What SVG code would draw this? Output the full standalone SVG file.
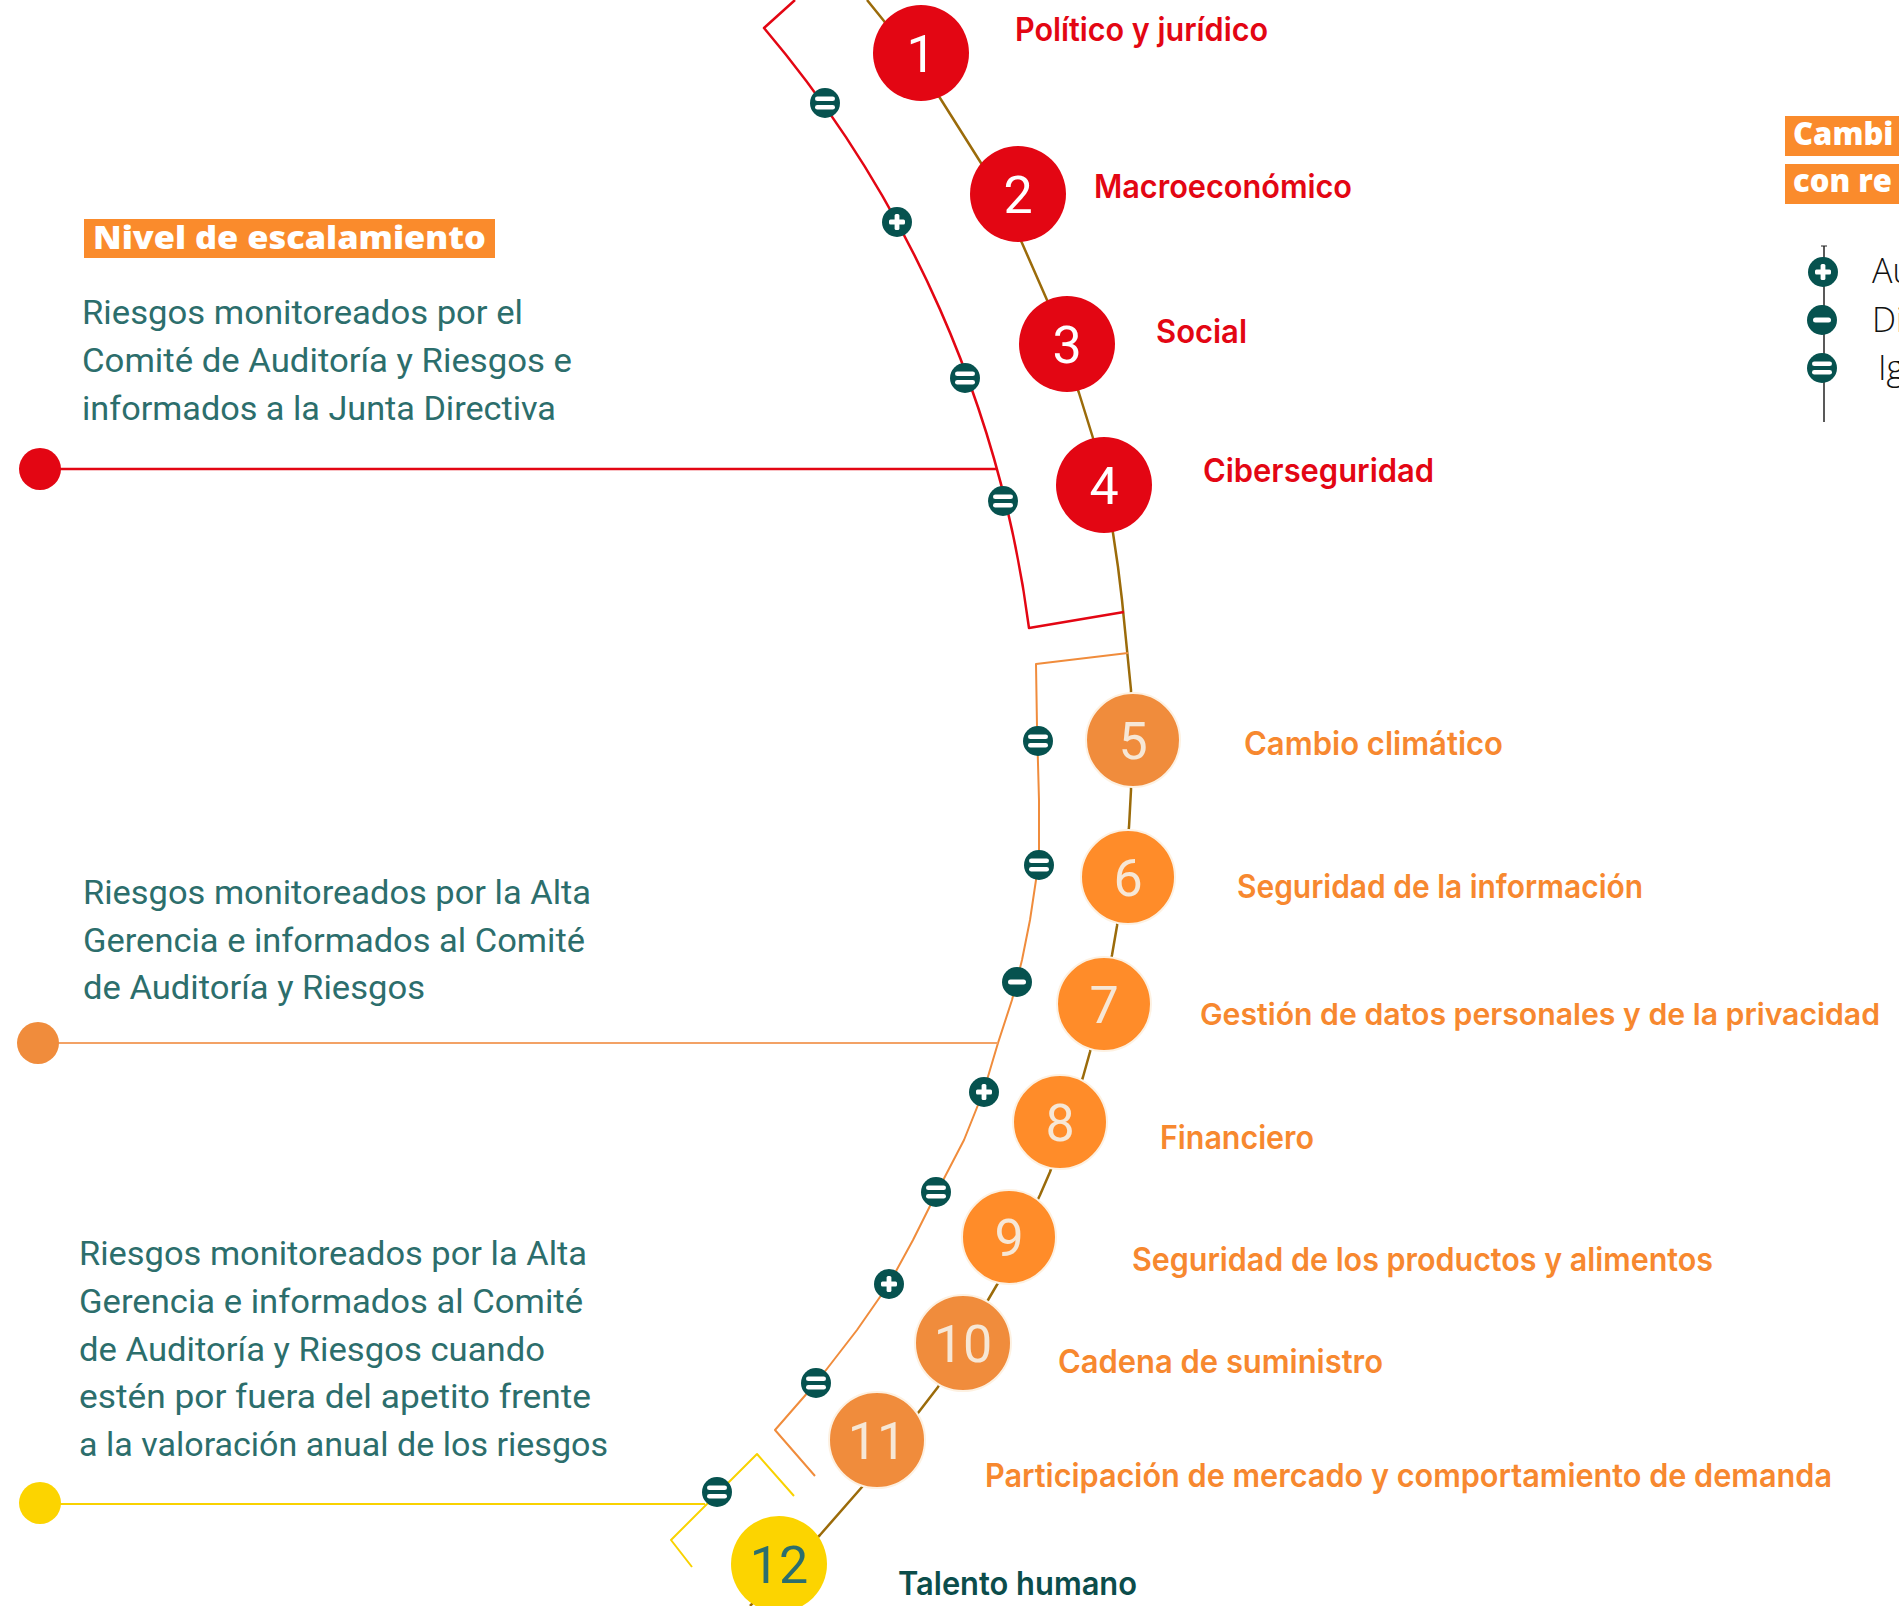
<svg xmlns="http://www.w3.org/2000/svg" xmlns:xlink="http://www.w3.org/1999/xlink" width="1899" height="1606" viewBox="0 0 1899 1606">
<style>
.lbl{font-family:Inter,Roboto,"Liberation Sans",sans-serif;font-weight:600;font-size:32px}
.red{fill:#E30613}
.org{fill:#F7882F}
.num{font-family:Roboto,"Liberation Sans",sans-serif;font-weight:400;font-size:52px;text-anchor:middle}
.wn{fill:#FFFFFF}
.cn{fill:#F6E7D6}
.para{font-family:Roboto,"Liberation Sans",sans-serif;font-weight:400;font-size:34px;fill:#2C6E6C}
.hdr{font-family:"Open Sans","Liberation Sans",sans-serif;font-weight:800;font-size:31px;fill:#FFFFFF}
.leg{font-family:"Open Sans","Liberation Sans",sans-serif;font-weight:300;font-size:34px;fill:#111111}
.cr{fill:#E30613}
.co1{fill:#F08C3C;stroke:#FDF1E2;stroke-width:2}
.co2{fill:#FF8C29;stroke:#FDF1E2;stroke-width:2}
.cy{fill:#FCD400}
</style>
<defs>
<g id="bEq"><circle r="15" fill="#06524F"/><rect x="-10" y="-6.6" width="20" height="4.6" rx="2.3" fill="#FFFFFF"/><rect x="-10" y="2" width="20" height="4.6" rx="2.3" fill="#FFFFFF"/></g>
<g id="bPlus"><circle r="15" fill="#06524F"/><rect x="-8" y="-2.4" width="16" height="4.8" rx="1.5" fill="#FFFFFF"/><rect x="-2.4" y="-8" width="4.8" height="16" rx="1.5" fill="#FFFFFF"/></g>
<g id="bMinus"><circle r="15" fill="#06524F"/><rect x="-9" y="-2.5" width="18" height="5" rx="2.5" fill="#FFFFFF"/></g>
</defs>
<rect width="1899" height="1606" fill="#FFFFFF"/>

<g id="connectors" fill="none" stroke-linejoin="round">
  <polyline points="867,0 884,21 940,98 981,163 1022,243 1047,300 1079,393 1093,438 1113,533 1118,567 1122,600 1125,630 1128,660 1131,690 1131,790 1129,827 1117,926 1112,955 1090,1052 1083,1077 1050,1172 1040,1195 998,1283 988,1300 938,1387 918,1413 862,1487 820,1535 750,1606" stroke="#9B6B0A" stroke-width="2.5"/>
  <path d="M795,0 L764,28 A1160,1160 0 0 1 1029,628 L1124,612" stroke="#E30613" stroke-width="2.5"/>
  <line x1="40" y1="469" x2="996" y2="469" stroke="#E30613" stroke-width="2.5"/>
  <polyline points="1128,653 1036,664 1037,727 1039,800 1039,850 1036,880 1030,920 1022,960 1012,1000 998,1043 984,1090 964,1140 938,1190 913,1240 889,1284 857,1330 816,1383 775,1430 815,1476" stroke="#F08C3C" stroke-width="2"/>
  <line x1="38" y1="1043" x2="998" y2="1043" stroke="#F3A265" stroke-width="2"/>
  <polyline points="794,1496 757,1454 671,1540 692,1567" stroke="#F9D200" stroke-width="2"/>
  <line x1="40" y1="1504" x2="705" y2="1504" stroke="#F9D200" stroke-width="1.8"/>
  <line x1="1824" y1="246" x2="1824" y2="422" stroke="#222222" stroke-width="1.5"/>
  <line x1="1821" y1="246" x2="1827" y2="246" stroke="#222222" stroke-width="1"/>
</g>

<g id="badges">
  <use xlink:href="#bEq" x="825" y="103"/>
  <use xlink:href="#bPlus" x="897" y="222"/>
  <use xlink:href="#bEq" x="965" y="378"/>
  <use xlink:href="#bEq" x="1003" y="501"/>
  <use xlink:href="#bEq" x="1038" y="741"/>
  <use xlink:href="#bEq" x="1039" y="865"/>
  <use xlink:href="#bMinus" x="1017" y="982"/>
  <use xlink:href="#bPlus" x="984" y="1092"/>
  <use xlink:href="#bEq" x="936" y="1192"/>
  <use xlink:href="#bPlus" x="889" y="1284"/>
  <use xlink:href="#bEq" x="816" y="1383"/>
  <use xlink:href="#bEq" x="717" y="1492"/>
</g>

<g id="level-dots">
  <circle cx="40" cy="469" r="21" fill="#E30613"/>
  <circle cx="38" cy="1043" r="21" fill="#F08C3C"/>
  <circle cx="40" cy="1503" r="21" fill="#FCD400"/>
</g>

<g id="nivel-header">
  <rect x="84" y="219" width="411" height="39" fill="#FA8B2C"/>
  <text class="hdr" x="93" y="249" textLength="393" lengthAdjust="spacingAndGlyphs">Nivel de escalamiento</text>
</g>

<g id="nivel-1">
  <text class="para" x="82" y="324" textLength="441" lengthAdjust="spacingAndGlyphs">Riesgos monitoreados por el</text>
  <text class="para" x="82" y="372" textLength="490" lengthAdjust="spacingAndGlyphs">Comité de Auditoría y Riesgos e</text>
  <text class="para" x="82" y="420" textLength="474" lengthAdjust="spacingAndGlyphs">informados a la Junta Directiva</text>
</g>
<g id="nivel-2">
  <text class="para" x="83" y="904" textLength="508" lengthAdjust="spacingAndGlyphs">Riesgos monitoreados por la Alta</text>
  <text class="para" x="83" y="952" textLength="502" lengthAdjust="spacingAndGlyphs">Gerencia e informados al Comité</text>
  <text class="para" x="83" y="999" textLength="342" lengthAdjust="spacingAndGlyphs">de Auditoría y Riesgos</text>
</g>
<g id="nivel-3">
  <text class="para" x="79" y="1265" textLength="508" lengthAdjust="spacingAndGlyphs">Riesgos monitoreados por la Alta</text>
  <text class="para" x="79" y="1313" textLength="504" lengthAdjust="spacingAndGlyphs">Gerencia e informados al Comité</text>
  <text class="para" x="79" y="1361" textLength="466" lengthAdjust="spacingAndGlyphs">de Auditoría y Riesgos cuando</text>
  <text class="para" x="79" y="1408" textLength="512" lengthAdjust="spacingAndGlyphs">estén por fuera del apetito frente</text>
  <text class="para" x="79" y="1456" textLength="529" lengthAdjust="spacingAndGlyphs">a la valoración anual de los riesgos</text>
</g>

<g id="risk-1"><circle class="cr" cx="921" cy="53" r="48"/><text class="num wn" x="921" y="72">1</text><text class="lbl red" x="1015" y="41" textLength="253" lengthAdjust="spacingAndGlyphs">Político y jurídico</text></g>
<g id="risk-2"><circle class="cr" cx="1018" cy="194" r="48"/><text class="num wn" x="1018" y="213">2</text><text class="lbl red" x="1094" y="198" textLength="258" lengthAdjust="spacingAndGlyphs">Macroeconómico</text></g>
<g id="risk-3"><circle class="cr" cx="1067" cy="344" r="48"/><text class="num wn" x="1067" y="363">3</text><text class="lbl red" x="1156" y="343" textLength="91" lengthAdjust="spacingAndGlyphs">Social</text></g>
<g id="risk-4"><circle class="cr" cx="1104" cy="485" r="48"/><text class="num wn" x="1104" y="504">4</text><text class="lbl red" x="1203" y="482" textLength="231" lengthAdjust="spacingAndGlyphs">Ciberseguridad</text></g>
<g id="risk-5"><circle class="co1" cx="1133" cy="740" r="47"/><text class="num cn" x="1133" y="759">5</text><text class="lbl org" x="1244" y="755" textLength="259" lengthAdjust="spacingAndGlyphs">Cambio climático</text></g>
<g id="risk-6"><circle class="co2" cx="1128" cy="877" r="47"/><text class="num cn" x="1128" y="896">6</text><text class="lbl org" x="1237" y="898" textLength="406" lengthAdjust="spacingAndGlyphs">Seguridad de la información</text></g>
<g id="risk-7"><circle class="co2" cx="1104" cy="1004" r="47"/><text class="num cn" x="1104" y="1023">7</text><text class="lbl org" x="1200" y="1025" textLength="680" lengthAdjust="spacingAndGlyphs" style="font-size:30px">Gestión de datos personales y de la privacidad</text></g>
<g id="risk-8"><circle class="co2" cx="1060" cy="1122" r="47"/><text class="num cn" x="1060" y="1141">8</text><text class="lbl org" x="1160" y="1149" textLength="154" lengthAdjust="spacingAndGlyphs">Financiero</text></g>
<g id="risk-9"><circle class="co2" cx="1009" cy="1237" r="47"/><text class="num cn" x="1009" y="1256">9</text><text class="lbl org" x="1132" y="1271" textLength="581" lengthAdjust="spacingAndGlyphs">Seguridad de los productos y alimentos</text></g>
<g id="risk-10"><circle class="co1" cx="963" cy="1343" r="48"/><text class="num cn" x="963" y="1362">10</text><text class="lbl org" x="1058" y="1373" textLength="325" lengthAdjust="spacingAndGlyphs">Cadena de suministro</text></g>
<g id="risk-11"><circle class="co1" cx="877" cy="1440" r="48"/><text class="num cn" x="877" y="1459">11</text><text class="lbl org" x="985" y="1487" textLength="847" lengthAdjust="spacingAndGlyphs">Participación de mercado y comportamiento de demanda</text></g>
<g id="risk-12"><circle class="cy" cx="779" cy="1564" r="48"/><text class="num" x="779" y="1583" style="fill:#2B6E6E">12</text><text class="lbl" x="898" y="1595" textLength="239" lengthAdjust="spacingAndGlyphs" style="fill:#0B4D4B">Talento humano</text></g>

<g id="legend">
  <rect x="1785" y="116" width="114" height="40" fill="#FA8B2C"/>
  <rect x="1785" y="164" width="114" height="40" fill="#FA8B2C"/>
  <text class="hdr" x="1793" y="145">Cambi</text>
  <text class="hdr" x="1793" y="192">con re</text>
  <use xlink:href="#bPlus" x="1823" y="272"/>
  <use xlink:href="#bMinus" x="1822" y="320"/>
  <use xlink:href="#bEq" x="1822" y="368"/>
  <text class="leg" x="1872" y="283">Au</text>
  <text class="leg" x="1872" y="332">Di</text>
  <text class="leg" x="1878" y="380">Ig</text>
</g>
</svg>
